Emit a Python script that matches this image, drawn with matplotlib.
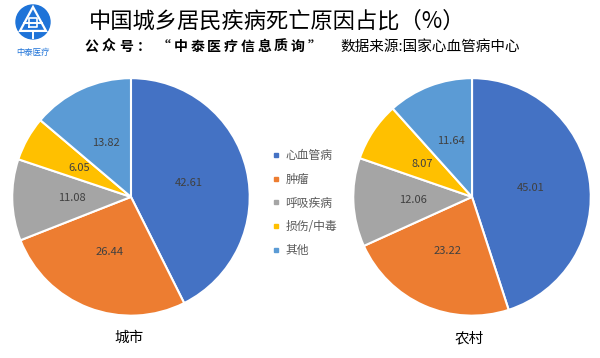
import matplotlib.pyplot as plt
from matplotlib.lines import Line2D
from matplotlib.patches import Circle, Polygon

plt.rcParams['font.family'] = ['Noto Sans CJK SC', 'DejaVu Sans']

causes = ['心血管病', '肿瘤', '呼吸疾病', '损伤/中毒', '其他']
city = [42.61, 26.44, 11.08, 6.05, 13.82]
rural = [45.01, 23.22, 12.06, 8.07, 11.64]
colors = ['#4472C4', '#ED7D31', '#A5A5A5', '#FFC000', '#5B9BD5']

fig = plt.figure(figsize=(6, 3.58), dpi=100)

ax1 = fig.add_axes([0.0183, 0.115, 0.4, 0.670])
ax2 = fig.add_axes([0.5867, 0.115, 0.4, 0.670])


def draw_pie(ax, vals, name):
    wedges, texts = ax.pie(vals, colors=colors, startangle=90, counterclock=False,
                           wedgeprops=dict(edgecolor='white', linewidth=1.5),
                           labels=[f'{v:.2f}' for v in vals], labeldistance=0.5,
                           textprops=dict(fontsize=8, color='#404040', ha='center', va='center'))
    ax.set_xlim(-1.01, 1.01)
    ax.set_ylim(-1.01, 1.01)
    ax.set_aspect('equal')
    ax.text(-0.02, -1.19, name, ha='center', va='center', fontsize=10.5, color='black')
    return wedges


draw_pie(ax1, city, '城市')
draw_pie(ax2, rural, '农村')

handles = [Line2D([], [], marker='s', linestyle='', markersize=3.5,
                  markerfacecolor=c, markeredgecolor=c) for c in colors]
fig.legend(handles, causes, loc='upper left', bbox_to_anchor=(0.445, 0.6),
           frameon=False, fontsize=8.5, labelcolor='#595959', handlelength=0.6,
           handletextpad=0.45, labelspacing=0.91, borderpad=0)

# header
fig.text(0.148, 0.94, '中国城乡居民疾病死亡原因占比（%）', fontsize=16, ha='left', va='center')

sub_y = 1 - 47 / 358
for i, ch in enumerate('公众号：'):
    fig.text((84 + 17.5 * i) / 600, sub_y, ch, fontsize=10, fontweight='bold',
             ha='left', va='center')
for i, ch in enumerate('“中泰医疗信息质询”'):
    fig.text((157 + 16.7 * i) / 600, sub_y, ch, fontsize=10, fontweight='bold',
             ha='left', va='center')
fig.text(340 / 600, sub_y, '数据来源:国家心血管病中心', fontsize=10.5, ha='left', va='center')

# logo
lax = fig.add_axes([0, 0.83, 0.12, 0.17])
lax.set_xlim(0, 72)
lax.set_ylim(0, 61)
lax.axis('off')
lax.add_patch(Circle((33, 39), 17, color='#1E73D8'))
lax.add_patch(Polygon([(33, 54), (20, 30), (46, 30)], closed=True, fill=False,
                      edgecolor='white', linewidth=1.6))
lax.plot([24, 42], [38, 38], color='white', linewidth=1.4)
lax.plot([29, 37, 37, 29, 29], [34, 34, 43, 43, 34], color='white', linewidth=1.2)
lax.plot([33, 33], [23, 30], color='white', linewidth=1.4)
lax.text(33, 8, '中泰医疗', fontsize=6, color='#1E73D8', ha='center', va='center',
         fontstyle='italic')

fig.savefig('out.png', dpi=100)
